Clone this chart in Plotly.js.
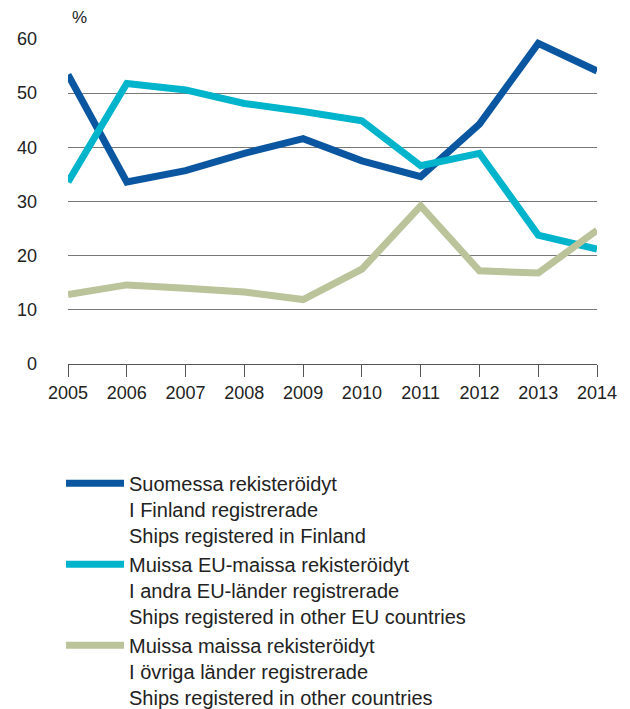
<!DOCTYPE html>
<html>
<head>
<meta charset="utf-8">
<script src="https://cdn.plot.ly/plotly-3.0.1.min.js"></script>
<style>html,body{margin:0;padding:0;background:#fff;}#chart{width:630px;height:709px;}</style>
</head>
<body>
<div id="chart"></div>
<script>
const years = [2005, 2006, 2007, 2008, 2009, 2010, 2011, 2012, 2013, 2014];
const finland = [53.4, 33.6, 35.7, 38.9, 41.6, 37.5, 34.6, 44.3, 59.2, 54.1];
const otherEU = [33.6, 51.8, 50.6, 48.1, 46.6, 44.9, 36.6, 38.9, 23.8, 21.2];
const otherCountries = [12.8, 14.6, 14.0, 13.3, 11.9, 17.5, 29.2, 17.2, 16.8, 24.7];
const seriesNames = [
  "Suomessa rekisteröidyt<br>I Finland registrerade<br>Ships registered in Finland",
  "Muissa EU-maissa rekisteröidyt<br>I andra EU-länder registrerade<br>Ships registered in other EU countries",
  "Muissa maissa rekisteröidyt<br>I övriga länder registrerade<br>Ships registered in other countries"
];
const yTicks = [0, 10, 20, 30, 40, 50, 60];
const colors = ["#0a56a0", "#00b4cc", "#bac39a"];

const series = [finland, otherEU, otherCountries];
const traces = series.map((vals, i) => ({
  x: years, y: vals, type: "scatter", mode: "lines",
  name: seriesNames[i], legendgroup: "g" + i,
  line: {color: colors[i], width: 7, shape: "linear"},
  hoverinfo: "x+y"
}));

const font = {family: "Liberation Sans, Arial, sans-serif", size: 18, color: "#222"};
const layout = {
  width: 630, height: 709,
  margin: {l: 68, r: 33, t: 39, b: 345, autoexpand: false},
  paper_bgcolor: "#fff", plot_bgcolor: "#fff",
  font: font,
  showlegend: true,
  xaxis: {
    range: [2005, 2014], tickvals: years, ticktext: years.map(String),
    showgrid: false, zeroline: false, showline: true, linecolor: "#555", linewidth: 1,
    ticks: "outside", ticklen: 12, tickcolor: "#555", tickwidth: 1,
    tickfont: font, tickangle: 0, fixedrange: true
  },
  yaxis: {
    range: [0, 60], tickvals: yTicks, ticktext: yTicks.map(String),
    showgrid: true, gridcolor: "#777", gridwidth: 1, zeroline: false, showline: false,
    ticks: "", ticklabelstandoff: 30, tickfont: font, fixedrange: true
  },
  legend: {
    xref: "paper", yref: "paper",
    x: -0.0132, y: -0.3072, xanchor: "left", yanchor: "top",
    traceorder: "grouped", tracegroupgap: 0, valign: "top",
    itemwidth: 58, font: {family: font.family, size: 20, color: "#222"}, bgcolor: "rgba(0,0,0,0)"
  },
  annotations: [{
    text: "%", xref: "paper", yref: "paper", x: 0, y: 1, xanchor: "left", yanchor: "bottom",
    xshift: 2, yshift: 10, showarrow: false, font: {family: font.family, size: 17, color: "#222"}
  }]
};
Plotly.newPlot("chart", traces, layout, {staticPlot: true, displayModeBar: false});
</script>
</body>
</html>
